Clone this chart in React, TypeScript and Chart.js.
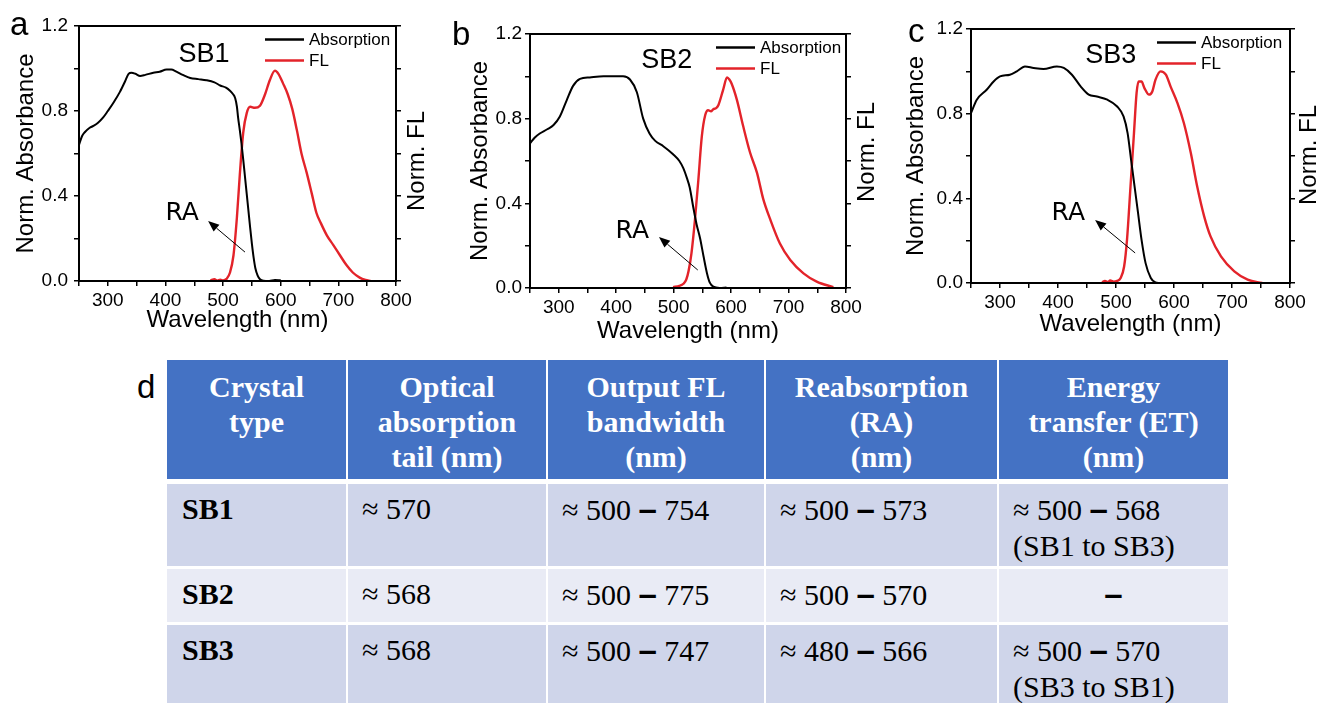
import React, { useEffect, useRef } from "react";
import { Chart, registerables } from "chart.js";

Chart.register(...registerables);

const SANS = '"Liberation Sans", Arial, Helvetica, sans-serif';
const SERIF = '"Liberation Serif", "Times New Roman", Times, serif';
const RA_FONT = '"DejaVu Sans", "Liberation Sans", sans-serif';
const RED = "#e3232a";
const BLACK = "#000000";

// ---------- axes ----------
const xMin = 250;
const xMax = 800;
const xStep = 50;
const xLabelStep = 100;
const yMin = 0;
const yMax = 1.2;
const yStep = 0.2;
const yLabelStep = 0.4;
const xTitle = "Wavelength (nm)";
const yTitle = "Norm. Absorbance";
const y2Title = "Norm. FL";
const seriesNames = ["Absorption", "FL"];
const panelLetters = ["a", "b", "c"];
const crystalNames = ["SB1", "SB2", "SB3"];
const annotationText = "RA";

// ---------- SB1 ----------
const sb1AbsNm = [250, 255, 260, 268, 275, 283, 292, 300, 310, 321, 330, 336, 341, 348, 356, 365, 379, 390, 402, 410, 419, 430, 443, 457, 471, 485, 495, 505, 512, 517, 521, 524, 526, 529, 532, 535, 538, 541, 544, 547, 550, 553, 556, 560, 564, 570, 580, 590, 600];
const sb1AbsVal = [0.64, 0.68, 0.7, 0.72, 0.73, 0.745, 0.77, 0.8, 0.84, 0.89, 0.94, 0.975, 0.98, 0.975, 0.965, 0.97, 0.98, 0.985, 0.995, 0.995, 0.985, 0.97, 0.955, 0.95, 0.945, 0.935, 0.92, 0.91, 0.895, 0.88, 0.86, 0.82, 0.77, 0.71, 0.645, 0.57, 0.49, 0.41, 0.33, 0.25, 0.175, 0.11, 0.06, 0.025, 0.008, 0.001, 0.0, 0.005, 0.003];
const sb1FlNm = [478, 485, 490, 495, 500, 506, 512, 518, 524, 529, 535, 541, 547, 555, 564, 573, 581, 590, 596, 604, 612, 620, 628, 636, 645, 654, 662, 670, 680, 691, 703, 714, 725, 737, 747, 756];
const sb1FlVal = [0.003, 0.008, 0.002, 0.006, 0.003, 0.01, 0.04, 0.12, 0.3, 0.5, 0.7, 0.79, 0.82, 0.815, 0.825, 0.88, 0.945, 0.99, 0.975, 0.93, 0.88, 0.81, 0.71, 0.6, 0.51, 0.41, 0.32, 0.27, 0.215, 0.17, 0.12, 0.075, 0.04, 0.016, 0.005, 0];

// ---------- SB2 ----------
const sb2AbsNm = [250, 258, 267, 280, 291, 302, 314, 325, 337, 354, 378, 395, 412, 424, 436, 447, 458, 468, 482, 499, 510, 517, 523, 528, 534, 540, 546, 552, 558, 563, 569, 580, 592];
const sb2AbsVal = [0.683, 0.71, 0.73, 0.75, 0.77, 0.81, 0.888, 0.955, 0.988, 0.995, 1.0, 1.0, 1.0, 0.985, 0.925, 0.8, 0.73, 0.695, 0.67, 0.632, 0.6, 0.565, 0.52, 0.475, 0.384, 0.3, 0.235, 0.15, 0.07, 0.025, 0.006, 0.0, 0.002];
const sb2FlNm = [499, 510, 517, 522, 526, 531, 537, 543, 549, 555, 560, 565, 569, 574, 578, 586, 593, 597, 601, 610, 621, 633, 645, 656, 668, 685, 703, 726, 749, 778];
const sb2FlVal = [0.004, 0.01, 0.02, 0.04, 0.08, 0.164, 0.32, 0.51, 0.715, 0.817, 0.84, 0.835, 0.845, 0.85, 0.865, 0.935, 0.995, 0.985, 0.965, 0.89, 0.765, 0.64, 0.545, 0.42, 0.325, 0.21, 0.132, 0.069, 0.03, 0.004];

// ---------- SB3 ----------
const sb3AbsNm = [250, 260, 277, 289, 300, 317, 329, 343, 358, 375, 398, 410, 424, 439, 453, 467, 485, 502, 513, 520, 526, 532, 538, 544, 551, 560, 568, 575];
const sb3AbsVal = [0.803, 0.866, 0.913, 0.952, 0.976, 0.984, 1.0, 1.023, 1.016, 1.011, 1.023, 1.016, 0.984, 0.929, 0.89, 0.881, 0.866, 0.834, 0.787, 0.708, 0.582, 0.456, 0.331, 0.205, 0.094, 0.024, 0.003, 0];
const sb3FlNm = [476, 481, 486, 490, 496, 502, 508, 514, 519, 525, 531, 535.5, 539, 544, 549, 557, 562.6, 568, 577, 586, 594, 606, 617, 629, 640, 652, 663, 681, 704, 727, 752];
const sb3FlVal = [0.003, 0.01, 0.004, 0.012, 0.006, 0.01, 0.024, 0.078, 0.205, 0.456, 0.708, 0.898, 0.952, 0.952, 0.921, 0.89, 0.905, 0.96, 1.0, 0.984, 0.929, 0.85, 0.756, 0.614, 0.456, 0.315, 0.22, 0.126, 0.055, 0.016, 0];

// ---------- table ----------
const tableHeaders = [
  ["Crystal", "type"],
  ["Optical", "absorption", "tail (nm)"],
  ["Output FL", "bandwidth", "(nm)"],
  ["Reabsorption", "(RA)", "(nm)"],
  ["Energy", "transfer (ET)", "(nm)"],
];
const absorptionTail = [570, 568, 568];
const flBandStart = [500, 500, 500];
const flBandEnd = [754, 775, 747];
const raStart = [500, 500, 480];
const raEnd = [573, 570, 566];
const etStart = [500, null, 500];
const etEnd = [568, null, 570];
const etPath = ["(SB1 to SB3)", "", "(SB3 to SB1)"];

// ---------- layout of panels (styles / positions only) ----------
type PanelLayout = {
  left: number; top: number; width: number; height: number;
  plotLeft: number; plotRight: number; plotTop: number; plotBottom: number;
  yTitlePad: number; yTickPad: number; xTitlePad: number; xTickPad: number;
  letterX: number; letterY: number; y2TitleX: number; y2TitleY: number;
  nameAt: [number, number]; raAt: [number, number];
  arrowFrom: [number, number]; arrowTo: [number, number];
};

const layouts: PanelLayout[] = [
  {
    left: 0, top: 0, width: 440, height: 345,
    plotLeft: 79, plotRight: 396, plotTop: 26, plotBottom: 281,
    yTitlePad: 12, yTickPad: 6, xTitlePad: 10, xTickPad: 3,
    letterX: 10, letterY: 35, y2TitleX: 417, y2TitleY: 161,
    nameAt: [467, 1.031], raAt: [400, 0.287],
    arrowFrom: [538, 0.136], arrowTo: [474, 0.282],
  },
  {
    left: 440, top: 0, width: 445, height: 350,
    plotLeft: 90, plotRight: 406, plotTop: 34, plotBottom: 288,
    yTitlePad: 26, yTickPad: 3, xTitlePad: 4, xTickPad: 3,
    letterX: 12, letterY: 45, y2TitleX: 427, y2TitleY: 152,
    nameAt: [488, 1.039], raAt: [399, 0.236],
    arrowFrom: [542, 0.085], arrowTo: [474.5, 0.241],
  },
  {
    left: 885, top: 0, width: 432, height: 345,
    plotLeft: 86, plotRight: 405, plotTop: 29, plotBottom: 283,
    yTitlePad: 17, yTickPad: 3, xTitlePad: 6, xTickPad: 3,
    letterX: 23, letterY: 42, y2TitleX: 424, y2TitleY: 155,
    nameAt: [491, 1.039], raAt: [389, 0.298],
    arrowFrom: [533, 0.142], arrowTo: [464, 0.298],
  },
];

const seriesData = [
  { absNm: sb1AbsNm, absVal: sb1AbsVal, flNm: sb1FlNm, flVal: sb1FlVal },
  { absNm: sb2AbsNm, absVal: sb2AbsVal, flNm: sb2FlNm, flVal: sb2FlVal },
  { absNm: sb3AbsNm, absVal: sb3AbsVal, flNm: sb3FlNm, flVal: sb3FlVal },
];

function isMultiple(v: number, step: number) {
  const r = v / step;
  return Math.abs(r - Math.round(r)) < 1e-6;
}

function makeAnnot(idx: number) {
  const p = layouts[idx];
  return {
    id: "annot" + idx,
    afterDraw(chart: any) {
      const { ctx, chartArea: ca } = chart;
      const xs = chart.scales.x;
      const ys = chart.scales.y;
      ctx.save();
      // frame
      ctx.strokeStyle = BLACK;
      ctx.lineWidth = 2;
      ctx.strokeRect(ca.left, ca.top, ca.right - ca.left, ca.bottom - ca.top);
      // legend
      const legendRows: [string, string, number][] = [
        [BLACK, seriesNames[0], 13.5],
        [RED, seriesNames[1], 34.5],
      ];
      ctx.font = `17px ${SANS}`;
      ctx.textAlign = "left";
      ctx.textBaseline = "middle";
      legendRows.forEach(([col, label, dy]) => {
        ctx.strokeStyle = col;
        ctx.lineWidth = 2.5;
        ctx.beginPath();
        ctx.moveTo(ca.left + 186, ca.top + dy);
        ctx.lineTo(ca.left + 225, ca.top + dy);
        ctx.stroke();
        ctx.fillStyle = BLACK;
        ctx.fillText(label, ca.left + 230, ca.top + dy + 0.5);
      });
      // crystal name
      ctx.fillStyle = BLACK;
      ctx.font = `27px ${SANS}`;
      ctx.textAlign = "center";
      ctx.textBaseline = "alphabetic";
      ctx.fillText(crystalNames[idx], xs.getPixelForValue(p.nameAt[0]), ys.getPixelForValue(p.nameAt[1]));
      // RA label
      ctx.font = `25px ${RA_FONT}`;
      ctx.textAlign = "left";
      ctx.fillText(annotationText, xs.getPixelForValue(p.raAt[0]), ys.getPixelForValue(p.raAt[1]));
      // arrow
      const x1 = xs.getPixelForValue(p.arrowFrom[0]);
      const y1 = ys.getPixelForValue(p.arrowFrom[1]);
      const x2 = xs.getPixelForValue(p.arrowTo[0]);
      const y2 = ys.getPixelForValue(p.arrowTo[1]);
      const ang = Math.atan2(y2 - y1, x2 - x1);
      const hl = 11;
      const hw = 4.5;
      const bx = x2 - hl * Math.cos(ang);
      const by = y2 - hl * Math.sin(ang);
      ctx.strokeStyle = BLACK;
      ctx.lineWidth = 1;
      ctx.beginPath();
      ctx.moveTo(x1, y1);
      ctx.lineTo(bx, by);
      ctx.stroke();
      ctx.beginPath();
      ctx.moveTo(x2, y2);
      ctx.lineTo(bx + hw * Math.sin(ang), by - hw * Math.cos(ang));
      ctx.lineTo(bx - hw * Math.sin(ang), by + hw * Math.cos(ang));
      ctx.closePath();
      ctx.fill();
      // panel letter
      ctx.font = `33px ${SANS}`;
      ctx.textAlign = "left";
      ctx.textBaseline = "alphabetic";
      ctx.fillText(panelLetters[idx], p.letterX, p.letterY);
      // right axis title (reads bottom-to-top)
      ctx.translate(p.y2TitleX, p.y2TitleY);
      ctx.rotate(-Math.PI / 2);
      ctx.font = `24px ${SANS}`;
      ctx.textAlign = "center";
      ctx.textBaseline = "middle";
      ctx.fillText(y2Title, 0, 0);
      ctx.restore();
    },
  };
}

function Panel({ idx }: { idx: number }) {
  const ref = useRef<HTMLCanvasElement | null>(null);
  const p = layouts[idx];
  useEffect(() => {
    const d = seriesData[idx];
    const tickFont = { family: SANS, size: 19 };
    const titleFont = { family: SANS, size: 24 };
    const grid = { drawOnChartArea: false, drawTicks: true, tickLength: 5, color: BLACK, lineWidth: 1.5 };
    const chart = new Chart(ref.current as HTMLCanvasElement, {
      type: "line",
      data: {
        datasets: [
          {
            label: seriesNames[0],
            data: d.absNm.map((x, i) => ({ x, y: d.absVal[i] })),
            borderColor: BLACK,
            borderWidth: 2,
            pointRadius: 0,
            fill: false,
            cubicInterpolationMode: "monotone",
            yAxisID: "y",
          },
          {
            label: seriesNames[1],
            data: d.flNm.map((x, i) => ({ x, y: d.flVal[i] })),
            borderColor: RED,
            borderWidth: 2.4,
            pointRadius: 0,
            fill: false,
            cubicInterpolationMode: "monotone",
            yAxisID: "y2",
          },
        ],
      },
      options: {
        responsive: false,
        animation: false,
        devicePixelRatio: 1,
        layout: { padding: { top: p.plotTop, left: 0, right: 0, bottom: 0 } },
        plugins: { legend: { display: false }, tooltip: { enabled: false } },
        scales: {
          x: {
            type: "linear",
            position: "bottom",
            min: xMin,
            max: xMax,
            ticks: {
              stepSize: xStep,
              autoSkip: false,
              maxRotation: 0,
              padding: p.xTickPad,
              color: BLACK,
              font: tickFont,
              callback: (v: any) => (isMultiple(Number(v), xLabelStep) ? String(Math.round(Number(v))) : ""),
            },
            grid,
            border: { display: false },
            title: { display: true, text: xTitle, color: BLACK, font: titleFont, padding: { top: 0, bottom: p.xTitlePad } },
            afterFit: (s: any) => {
              s.height = p.height - p.plotBottom;
            },
          },
          y: {
            type: "linear",
            position: "left",
            min: yMin,
            max: yMax,
            ticks: {
              stepSize: yStep,
              padding: p.yTickPad,
              color: BLACK,
              font: tickFont,
              callback: (v: any) => (isMultiple(Number(v), yLabelStep) ? Number(v).toFixed(1) : ""),
            },
            grid,
            border: { display: false },
            title: { display: true, text: yTitle, color: BLACK, font: titleFont, padding: { top: p.yTitlePad, bottom: 0 } },
            afterFit: (s: any) => {
              s.width = p.plotLeft;
            },
          },
          y2: {
            type: "linear",
            position: "right",
            min: yMin,
            max: yMax,
            ticks: { stepSize: yStep, padding: 0, color: BLACK, font: tickFont, callback: () => "" },
            grid,
            border: { display: false },
            afterFit: (s: any) => {
              s.width = p.width - p.plotRight;
            },
          },
        },
      } as any,
      plugins: [makeAnnot(idx)],
    });
    return () => chart.destroy();
  }, [idx]);
  return (
    <canvas
      ref={ref}
      width={p.width}
      height={p.height}
      style={{ position: "absolute", left: p.left, top: p.top, width: p.width, height: p.height }}
    />
  );
}

const dashStyle: React.CSSProperties = {
  fontFamily: SANS,
  fontWeight: "bold",
  fontSize: 33,
};

function Range({ a, b }: { a: number; b: number }) {
  return (
    <span>
      ≈ {a} <span style={dashStyle}>–</span> {b}
    </span>
  );
}

function DataTable() {
  const colX = [167, 347, 547, 765, 998, 1229];
  const header = { top: 360, bottom: 479 };
  const rows = [
    { top: 484, bottom: 566, bg: "#cfd5ea" },
    { top: 569, bottom: 622, bg: "#e9ebf5" },
    { top: 625, bottom: 706, bg: "#cfd5ea" },
  ];
  const cells: React.ReactNode[] = [];
  tableHeaders.forEach((lines, c) => {
    cells.push(
      <div
        key={"h" + c}
        style={{
          position: "absolute",
          left: colX[c] + (c === 0 ? 0 : 1),
          top: header.top,
          width: colX[c + 1] - colX[c] - (c === 0 ? 1 : 2),
          height: header.bottom - header.top,
          background: "#4472c4",
          color: "#ffffff",
          fontFamily: SERIF,
          fontWeight: "bold",
          fontSize: 30,
          lineHeight: "35px",
          textAlign: "center",
          paddingTop: 9,
          boxSizing: "border-box",
          whiteSpace: "nowrap",
        }}
      >
        {lines.map((l, i) => (
          <div key={i}>{l}</div>
        ))}
      </div>
    );
  });
  rows.forEach((r, ri) => {
    const contents: React.ReactNode[] = [
      <b>{crystalNames[ri]}</b>,
      <span>≈ {absorptionTail[ri]}</span>,
      <Range a={flBandStart[ri]} b={flBandEnd[ri]} />,
      <Range a={raStart[ri]} b={raEnd[ri]} />,
      etStart[ri] === null ? (
        <div style={{ textAlign: "center", paddingRight: 14 }}>
          <span style={dashStyle}>–</span>
        </div>
      ) : (
        <span>
          <Range a={etStart[ri] as number} b={etEnd[ri] as number} />
          <br />
          {etPath[ri]}
        </span>
      ),
    ];
    contents.forEach((node, c) => {
      cells.push(
        <div
          key={"r" + ri + "c" + c}
          style={{
            position: "absolute",
            left: colX[c] + (c === 0 ? 0 : 1),
            top: r.top,
            width: colX[c + 1] - colX[c] - (c === 0 ? 1 : 2),
            height: r.bottom - r.top,
            background: r.bg,
            color: "#000000",
            fontFamily: SERIF,
            fontSize: 30,
            lineHeight: "36px",
            paddingTop: 7,
            paddingLeft: c === 0 ? 15 : 14,
            boxSizing: "border-box",
            whiteSpace: "nowrap",
          }}
        >
          {node}
        </div>
      );
    });
  });
  return <>{cells}</>;
}

export default function App() {
  return (
    <div
      style={{
        position: "absolute",
        left: 0,
        top: 0,
        width: 1317,
        height: 703,
        background: "#ffffff",
        overflow: "hidden",
      }}
    >
      {layouts.map((_, i) => (
        <Panel key={i} idx={i} />
      ))}
      <div
        style={{
          position: "absolute",
          left: 137,
          top: 370,
          fontFamily: SANS,
          fontSize: 33,
          lineHeight: "33px",
          color: "#000",
        }}
      >
        d
      </div>
      <DataTable />
    </div>
  );
}
